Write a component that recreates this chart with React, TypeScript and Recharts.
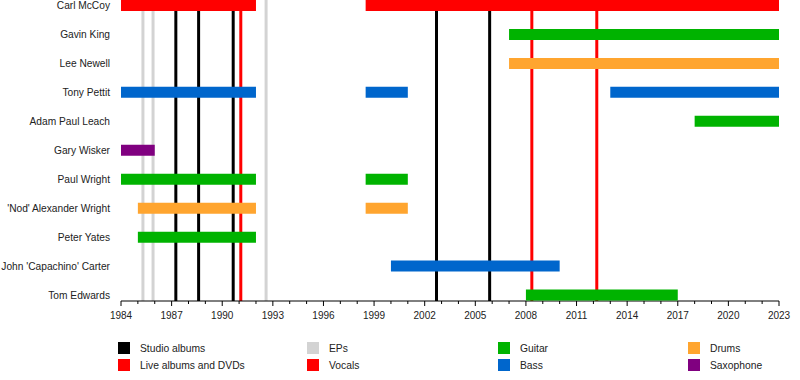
import React from 'react';
import { ComposedChart, Bar, Cell, XAxis, YAxis, ReferenceLine } from 'recharts';

const members = [
  'Carl McCoy',
  'Gavin King',
  'Lee Newell',
  'Tony Pettit',
  'Adam Paul Leach',
  'Gary Wisker',
  'Paul Wright',
  "'Nod' Alexander Wright",
  'Peter Yates',
  "John 'Capachino' Carter",
  'Tom Edwards',
];

const roles = ['Vocals', 'Guitar', 'Drums', 'Bass', 'Guitar', 'Saxophone', 'Guitar', 'Drums', 'Guitar', 'Bass', 'Guitar'];

// up to three stints per member, [from, to]
const firstStint = [[1984, 1992], [2007, 2023], [2007, 2023], [1984, 1992], [2018, 2023], [1984, 1986], [1984, 1992], [1985, 1992], [1985, 1992], [2000, 2010], [2008, 2017]];
const secondStint = [[1998.5, 2023], null, null, [1998.5, 2001], null, null, [1998.5, 2001], [1998.5, 2001], null, null, null];
const thirdStint = [null, null, null, [2013, 2023], null, null, null, null, null, null, null];

const studioAlbums = [1987.25, 1988.6, 1990.65, 2002.7, 2005.85];
const liveAlbums = [1991.1, 2008.35, 2012.2];
const eps = [1985.3, 1985.9, 1992.6];

const majorYears = [1984, 1987, 1990, 1993, 1996, 1999, 2002, 2005, 2008, 2011, 2014, 2017, 2020, 2023];
const allYears = [
  1984, 1985, 1986, 1987, 1988, 1989, 1990, 1991, 1992, 1993, 1994, 1995, 1996, 1997, 1998, 1999, 2000, 2001, 2002, 2003,
  2004, 2005, 2006, 2007, 2008, 2009, 2010, 2011, 2012, 2013, 2014, 2015, 2016, 2017, 2018, 2019, 2020, 2021, 2022, 2023,
];

const legendLabels = ['Studio albums', 'Live albums and DVDs', 'EPs', 'Vocals', 'Guitar', 'Bass', 'Drums', 'Saxophone'];

const roleColors: Record<string, string> = {
  Vocals: '#ff0000',
  Guitar: '#00b300',
  Bass: '#0066cc',
  Drums: '#ffa52f',
  Saxophone: '#800080',
};
const legendColors = ['#000000', '#ff0000', '#d3d3d3', '#ff0000', '#00b300', '#0066cc', '#ffa52f', '#800080'];
const legendX = [118, 118, 307, 307, 498, 498, 688, 688];
const legendY = [342, 359, 342, 359, 342, 359, 342, 359];

const data = members.map((name, i) => ({
  name,
  role: roles[i],
  s1: firstStint[i],
  s2: secondStint[i],
  s3: thirdStint[i],
}));

const font = '"Liberation Sans", Arial, sans-serif';

const YearTick = (props: any) => {
  const { x, y, payload } = props;
  const major = majorYears.includes(payload.value);
  return (
    <g>
      <line x1={x} x2={x} y1={y} y2={y + (major ? 5 : 3)} stroke="#000" strokeWidth={1} />
      {major && (
        <text x={x} y={y + 18} textAnchor="middle" fontSize={10} fill="#222" fontFamily={font}>
          {payload.value}
        </text>
      )}
    </g>
  );
};

const NameTick = (props: any) => {
  const { x, y, payload } = props;
  return (
    <text x={x} y={y} textAnchor="end" dominantBaseline="central" fontSize={10.2} fill="#222" fontFamily={font}>
      {payload.value}
    </text>
  );
};

export default function App() {
  return (
    <div style={{ position: 'absolute', left: 0, top: 0, width: 800, height: 380, fontFamily: font, overflow: 'hidden' }}>
      {/* back layer: time axis and album release lines */}
      <div style={{ position: 'absolute', left: 0, top: 0 }}>
        <ComposedChart width={800} height={380} data={data} layout="vertical" margin={{ top: 0, right: 21, left: 0, bottom: 49 }}>
          <XAxis
            type="number"
            dataKey="s1"
            domain={[1984, 2023]}
            ticks={allYears}
            interval={0}
            tickSize={0}
            tickMargin={0}
            tick={<YearTick />}
            stroke="#000"
            height={30}
          />
          <YAxis type="category" dataKey="name" width={121} tick={false} tickLine={false} axisLine={false} />
          {eps.map((v) => (
            <ReferenceLine key={'ep' + v} x={v} stroke="#d3d3d3" strokeWidth={3} />
          ))}
          {studioAlbums.map((v) => (
            <ReferenceLine key={'st' + v} x={v} stroke="#000" strokeWidth={3} />
          ))}
          {liveAlbums.map((v) => (
            <ReferenceLine key={'lv' + v} x={v} stroke="#ff0000" strokeWidth={3} />
          ))}
        </ComposedChart>
      </div>
      {/* front layer: member bars and names; rows sit half a band above/below the plot edges */}
      <div style={{ position: 'absolute', left: 0, top: -9 }}>
        <ComposedChart
          width={800}
          height={330}
          data={data}
          layout="vertical"
          margin={{ top: 0, right: 21, left: 0, bottom: 11.5 }}
          barGap={-11}
        >
          <XAxis type="number" dataKey="s1" domain={[1984, 2023]} hide />
          <YAxis
            type="category"
            dataKey="name"
            width={121}
            interval={0}
            tickLine={false}
            axisLine={false}
            tickSize={6}
            tickMargin={5}
            tick={<NameTick />}
          />
          {['s1', 's2', 's3'].map((k) => (
            <Bar key={k} dataKey={k} barSize={11} isAnimationActive={false}>
              {data.map((d) => (
                <Cell key={d.name} fill={roleColors[d.role]} />
              ))}
            </Bar>
          ))}
        </ComposedChart>
      </div>
      {legendLabels.map((label, i) => (
        <div key={label}>
          <div
            style={{
              position: 'absolute',
              left: legendX[i],
              top: legendY[i],
              width: 12,
              height: 12,
              background: legendColors[i],
            }}
          />
          <div
            style={{
              position: 'absolute',
              left: legendX[i] + 22,
              top: legendY[i] + 1,
              fontSize: 10.3,
              lineHeight: '12px',
              color: '#222',
            }}
          >
            {label}
          </div>
        </div>
      ))}
    </div>
  );
}
